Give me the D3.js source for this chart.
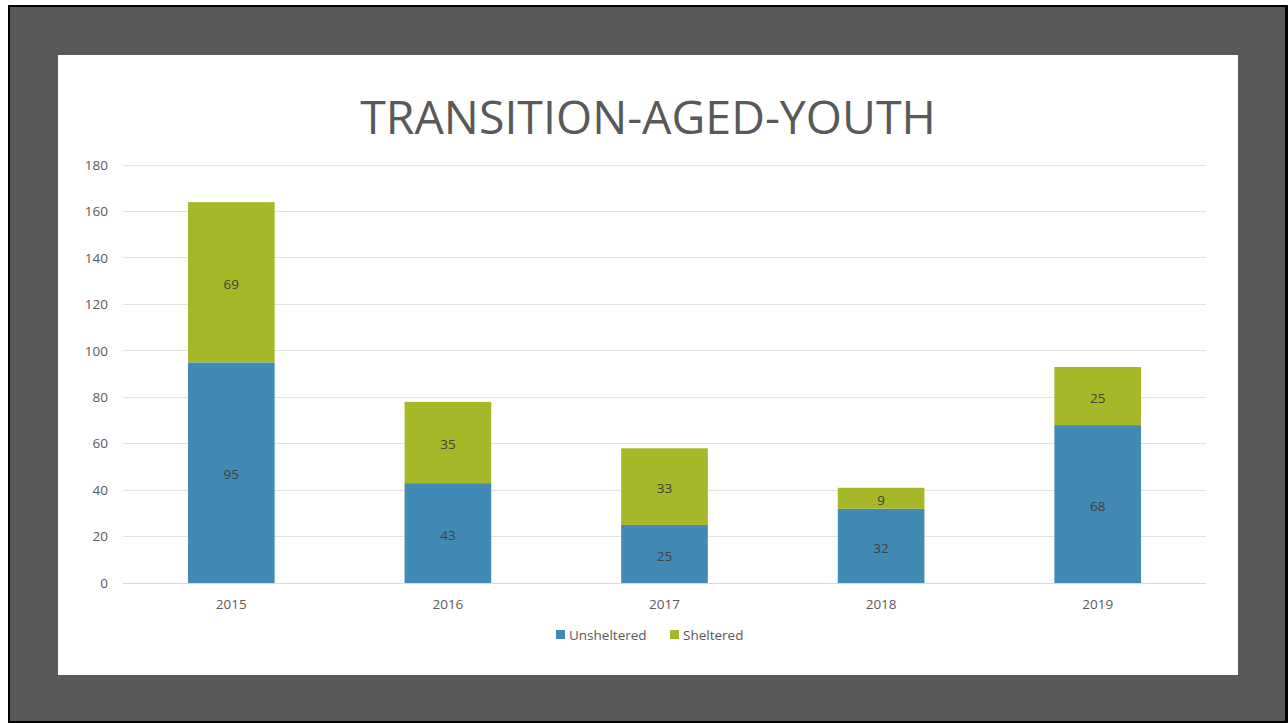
<!DOCTYPE html>
<html><head><meta charset="utf-8">
<script src="https://cdn.jsdelivr.net/npm/d3@7"></script>
<style>html,body{margin:0;padding:0;background:#fff;overflow:hidden}</style>
</head><body>
<svg id="c" width="1288" height="723"></svg>
<script>
const years = ["2015","2016","2017","2018","2019"];
const unsheltered = [95,43,25,32,68];
const sheltered = [69,35,33,9,25];
const yTicks = [0,20,40,60,80,100,120,140,160,180];
const seriesNames = ["Unsheltered","Sheltered"];
const colors = ["#418ab3","#a6b727"];

const svg = d3.select("#c");
svg.append("rect").attr("x",8).attr("y",5).attr("width",1280).attr("height",718).attr("fill","#000");
svg.append("rect").attr("x",10).attr("y",7).attr("width",1275).attr("height",714).attr("fill","#595959");
svg.append("rect").attr("x",58).attr("y",55).attr("width",1180).attr("height",620).attr("fill","#fff");

const font = "'Open Sans', sans-serif";
svg.append("text").attr("x",648).attr("y",134).attr("text-anchor","middle")
  .attr("font-family",font).attr("font-size",46.5).attr("fill","#595959").text("TRANSITION-AGED-YOUTH");

const x = d3.scaleBand().domain(years).range([123,1206]).paddingInner(0.6).paddingOuter(0.3);
const y = d3.scaleLinear().domain([0,180]).range([583,165]);

const g = svg.append("g");
g.selectAll("line.grid").data(yTicks).join("line").attr("class","grid")
  .attr("x1",123).attr("x2",1206).attr("y1",d=>y(d)).attr("y2",d=>y(d))
  .attr("stroke",d=>d===0?"#d9d9d9":"#e3e3e3").attr("stroke-width",1).attr("shape-rendering","crispEdges");

const yAxis = svg.append("g").attr("transform","translate(123,0)")
  .call(d3.axisLeft(y).tickValues(yTicks).tickSize(0).tickPadding(15));
yAxis.select(".domain").remove();
yAxis.selectAll("text").attr("font-family",font).attr("font-size",13.5).attr("fill","#595959");

const xAxis = svg.append("g").attr("transform","translate(0,583)")
  .call(d3.axisBottom(x).tickSize(0).tickPadding(16));
xAxis.select(".domain").remove();
xAxis.selectAll("text").attr("font-family",font).attr("font-size",13.5).attr("fill","#595959");

const stackData = years.map((yr,i)=>({year:yr, Unsheltered:unsheltered[i], Sheltered:sheltered[i]}));
const stack = d3.stack().keys(seriesNames)(stackData);
stack.forEach((s,si)=>{
  const sg = svg.append("g");
  sg.selectAll("rect").data(s).join("rect")
    .attr("x",d=>x(d.data.year)).attr("width",x.bandwidth())
    .attr("y",d=>y(d[1])).attr("height",d=>y(d[0])-y(d[1]))
    .attr("fill",colors[si]);
  sg.selectAll("text").data(s).join("text")
    .attr("x",d=>x(d.data.year)+x.bandwidth()/2).attr("y",d=>(y(d[0])+y(d[1]))/2+2)
    .attr("dy","0.35em").attr("text-anchor","middle")
    .attr("font-family",font).attr("font-size",13.5).attr("fill","#404040")
    .text(d=>d[1]-d[0]);
});

const legendX = [556,670];
seriesNames.forEach((n,i)=>{
  svg.append("rect").attr("x",legendX[i]).attr("y",630).attr("width",9).attr("height",9).attr("fill",colors[i]);
  svg.append("text").attr("x",legendX[i]+13).attr("y",635).attr("dy","0.35em")
    .attr("font-family",font).attr("font-size",13.5).attr("fill","#595959").text(n);
});
</script>
</body></html>
